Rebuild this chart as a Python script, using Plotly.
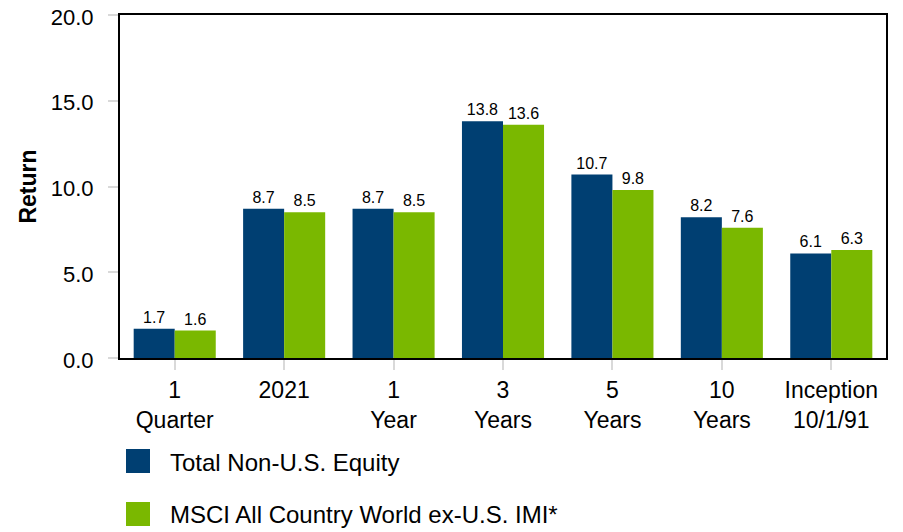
import plotly.graph_objects as go

categories = ["1<br>Quarter", "2021", "1<br>Year", "3<br>Years", "5<br>Years", "10<br>Years", "Inception<br>10/1/91"]
total_non_us = [1.7, 8.7, 8.7, 13.8, 10.7, 8.2, 6.1]
msci_acwi_ex_us = [1.6, 8.5, 8.5, 13.6, 9.8, 7.6, 6.3]
series_names = ["Total Non-U.S. Equity", "MSCI All Country World ex-U.S. IMI*"]
series_colors = ["#003F72", "#7AB800"]
y_ticks = [0, 5, 10, 15, 20]

FONT = "Liberation Sans, Arial, sans-serif"
# page body has an 8px default margin; offset the layout so the plot lands where the reference has it
OFF = 8
W, H = 895, 524
ML, MR, MT, MB = 112, 17, 7, 174
PW, PH = W - ML - MR, H - MT - MB


def px_x(px):
    return (px - OFF - ML) / PW


def px_y(py):
    return (OFF + H - MB - py) / PH


fig = go.Figure()
for name, vals, col in zip(series_names, [total_non_us, msci_acwi_ex_us], series_colors):
    fig.add_trace(go.Bar(
        x=categories, y=vals, name=name, marker=dict(color=col, line=dict(width=0)),
        text=[f"{v:.1f}" for v in vals], textposition="outside",
        textfont=dict(size=16, color="#000000", family=FONT),
        cliponaxis=False, showlegend=False,
    ))

# custom legend (squares + labels) placed below the plot
legend_rows_y = [461, 514]
for name, col, cy in zip(series_names, series_colors, legend_rows_y):
    fig.add_shape(
        type="rect", xref="paper", yref="paper",
        x0=px_x(126), x1=px_x(150), y0=px_y(cy - 12), y1=px_y(cy + 12),
        fillcolor=col, line=dict(width=0),
    )
    fig.add_annotation(
        xref="paper", yref="paper", x=px_x(168), y=px_y(cy + 1),
        xanchor="left", yanchor="middle", text=name, showarrow=False,
        font=dict(size=24, family=FONT, color="#000000"),
    )

fig.update_layout(
    width=W, height=H,
    margin=dict(l=ML, r=MR, t=MT, b=MB),
    paper_bgcolor="white", plot_bgcolor="white",
    font=dict(family=FONT, size=22, color="#000000"),
    barmode="group", bargap=0.25, bargroupgap=0,
    showlegend=False,
)
fig.update_xaxes(
    showline=True, linecolor="#000000", linewidth=2, mirror=True,
    ticks="outside", ticklen=10, tickcolor="#d9d9d9", tickwidth=2,
    tickfont=dict(size=23), showgrid=False, automargin=False,
)
fig.update_yaxes(
    range=[0, 20], tickvals=y_ticks, ticktext=[f"{v:.1f}" for v in y_ticks],
    showline=True, linecolor="#000000", linewidth=2, mirror=True,
    ticks="outside", ticklen=10, tickcolor="#d9d9d9", tickwidth=2,
    ticklabelstandoff=10, ticklabelshift=2, ticklabeloverflow="allow",
    tickfont=dict(size=22), showgrid=False, zeroline=False, automargin=False,
    title=dict(text="<b>Return</b>", font=dict(size=23), standoff=8),
)
fig.write_html("out.html")
